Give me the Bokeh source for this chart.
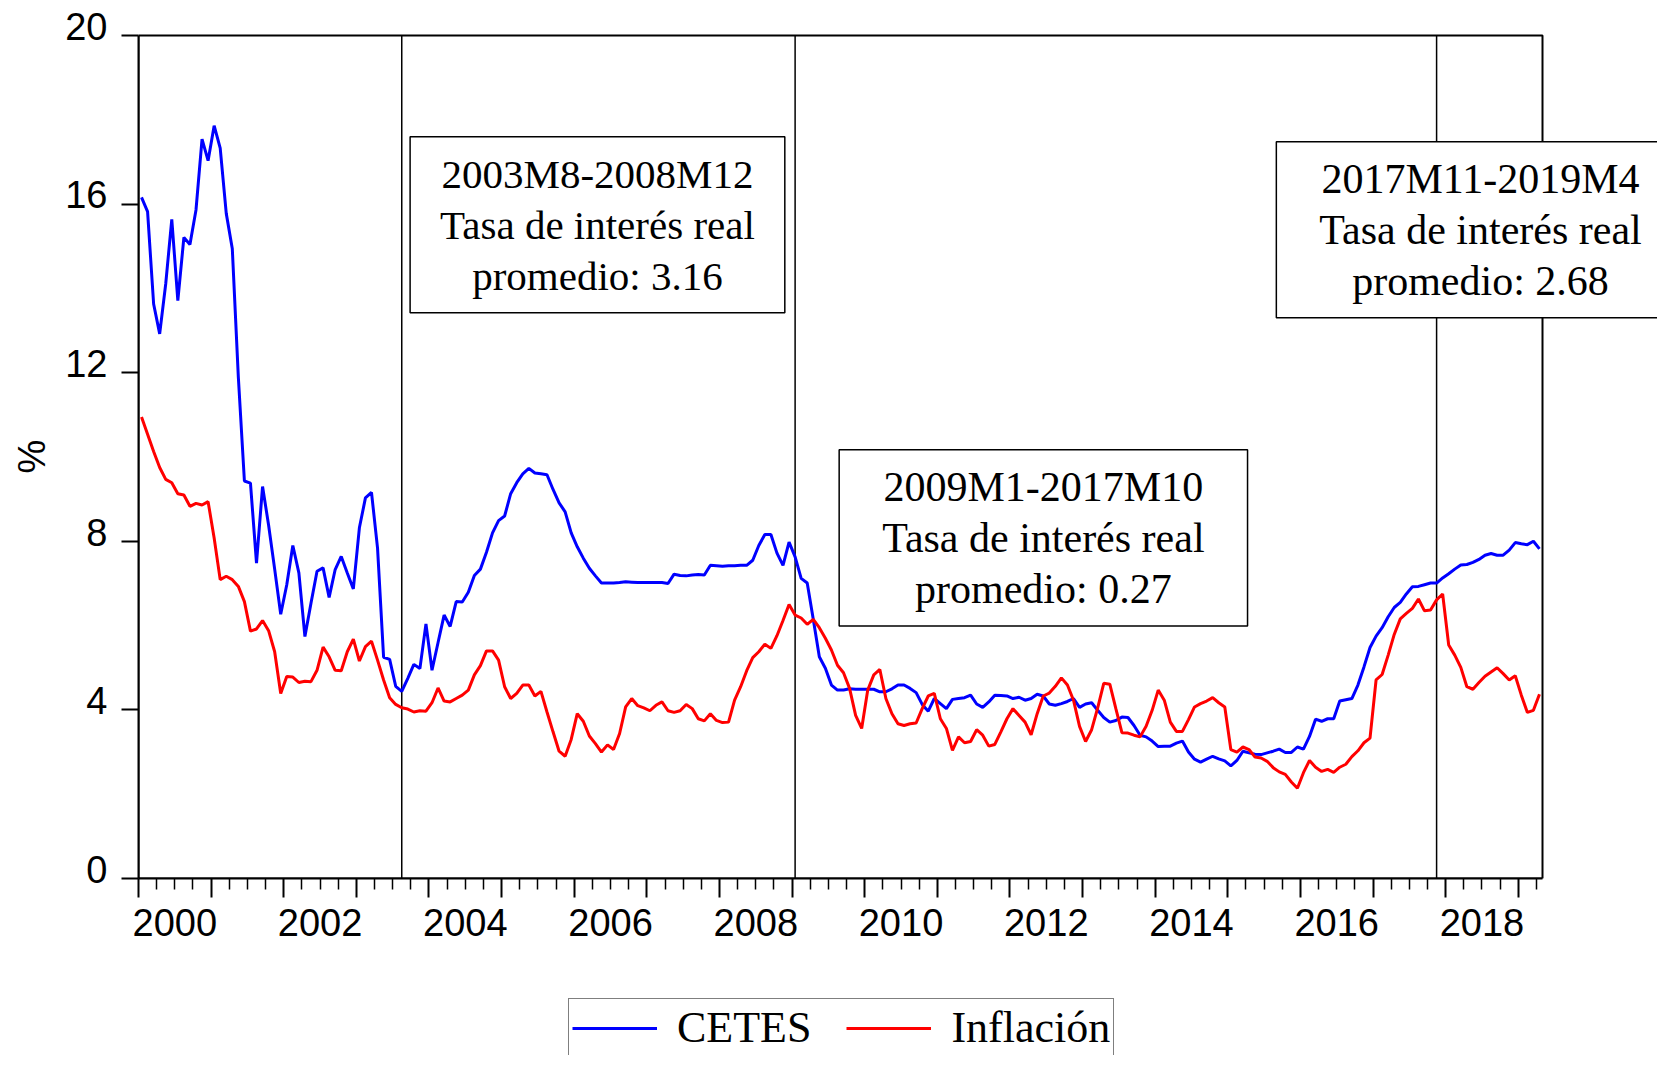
import numpy as np
from bokeh.plotting import figure
from bokeh.layouts import column
from bokeh.models import (ColumnDataSource, BoxAnnotation, Label, Legend, LegendItem,
                          LinearAxis, FixedTicker, Range1d, Title)
from bokeh.embed import file_html
from bokeh.resources import INLINE

# ---------------- data (monthly, 2000M1 - 2019M4) ----------------
START_YEAR = 2000
cetes = [
    16.16, 15.82, 13.63, 12.92, 14.11, 15.64, 13.71, 15.21, 15.04, 15.86, 17.54, 17.03,
    17.86, 17.33, 15.78, 14.94, 11.89, 9.43, 9.38, 7.48, 9.30, 8.38, 7.34, 6.27,
    6.97, 7.90, 7.25, 5.74, 6.53, 7.29, 7.37, 6.67, 7.33, 7.64, 7.25, 6.87,
    8.32, 9.03, 9.16, 7.84, 5.25, 5.20, 4.56, 4.44, 4.75, 5.08, 4.98, 6.04,
    4.94, 5.60, 6.25, 5.98, 6.57, 6.56, 6.79, 7.19, 7.34, 7.74, 8.20, 8.49,
    8.60, 9.13, 9.39, 9.60, 9.73, 9.62, 9.60, 9.58, 9.23, 8.91, 8.70, 8.20,
    7.87, 7.60, 7.36, 7.18, 7.01, 7.01, 7.01, 7.02, 7.04, 7.03, 7.02, 7.02,
    7.02, 7.02, 7.02, 7.00, 7.22, 7.19, 7.18, 7.20, 7.21, 7.20, 7.43, 7.42,
    7.41, 7.42, 7.42, 7.43, 7.43, 7.55, 7.90, 8.16, 8.16, 7.72, 7.43, 7.98,
    7.63, 7.12, 7.01, 6.15, 5.26, 4.99, 4.59, 4.47, 4.47, 4.50, 4.49, 4.49,
    4.49, 4.49, 4.43, 4.43, 4.50, 4.59, 4.59, 4.51, 4.41, 4.13, 3.97, 4.27,
    4.15, 4.03, 4.25, 4.27, 4.29, 4.35, 4.14, 4.06, 4.19, 4.35, 4.34, 4.33,
    4.27, 4.30, 4.23, 4.27, 4.37, 4.33, 4.14, 4.11, 4.15, 4.20, 4.27, 4.06,
    4.14, 4.17, 3.99, 3.82, 3.71, 3.75, 3.83, 3.82, 3.63, 3.40, 3.36, 3.26,
    3.13, 3.14, 3.14, 3.21, 3.26, 3.00, 2.83, 2.76, 2.83, 2.90, 2.84, 2.79,
    2.67, 2.80, 3.02, 2.98, 2.95, 2.94, 2.98, 3.02, 3.07, 2.99, 2.99, 3.12,
    3.07, 3.37, 3.78, 3.73, 3.79, 3.79, 4.21, 4.24, 4.27, 4.59, 5.02, 5.48,
    5.75, 5.95, 6.21, 6.43, 6.55, 6.75, 6.92, 6.93, 6.97, 7.01, 7.01, 7.13,
    7.23, 7.34, 7.44, 7.45, 7.50, 7.57, 7.67, 7.71, 7.67, 7.67, 7.79, 7.97,
    7.94, 7.92, 8.00, 7.82,
]
inflacion = [
    10.95, 10.54, 10.13, 9.75, 9.47, 9.39, 9.13, 9.10, 8.83, 8.90, 8.86, 8.94,
    8.08, 7.09, 7.17, 7.09, 6.93, 6.57, 5.87, 5.92, 6.12, 5.88, 5.38, 4.39,
    4.79, 4.78, 4.65, 4.68, 4.67, 4.94, 5.49, 5.26, 4.94, 4.93, 5.38, 5.68,
    5.16, 5.50, 5.63, 5.18, 4.71, 4.29, 4.13, 4.05, 4.02, 3.95, 3.98, 3.97,
    4.17, 4.52, 4.21, 4.19, 4.27, 4.35, 4.47, 4.83, 5.05, 5.40, 5.40, 5.18,
    4.55, 4.27, 4.39, 4.59, 4.59, 4.33, 4.44, 3.95, 3.48, 3.02, 2.90, 3.30,
    3.91, 3.73, 3.38, 3.20, 3.00, 3.17, 3.06, 3.44, 4.07, 4.27, 4.10, 4.05,
    3.98, 4.11, 4.19, 3.98, 3.94, 3.98, 4.13, 4.03, 3.79, 3.74, 3.91, 3.75,
    3.70, 3.71, 4.23, 4.55, 4.93, 5.24, 5.38, 5.56, 5.46, 5.76, 6.12, 6.50,
    6.25, 6.18, 6.03, 6.15, 5.95, 5.70, 5.42, 5.06, 4.88, 4.51, 3.87, 3.56,
    4.47, 4.83, 4.96, 4.27, 3.91, 3.67, 3.63, 3.67, 3.69, 4.03, 4.33, 4.39,
    3.79, 3.56, 3.04, 3.36, 3.22, 3.25, 3.53, 3.40, 3.14, 3.18, 3.48, 3.79,
    4.03, 3.87, 3.71, 3.41, 3.91, 4.33, 4.40, 4.56, 4.76, 4.59, 4.23, 3.61,
    3.25, 3.53, 4.05, 4.63, 4.61, 4.03, 3.46, 3.45, 3.40, 3.36, 3.61, 3.99,
    4.47, 4.23, 3.71, 3.49, 3.49, 3.77, 4.07, 4.15, 4.21, 4.29, 4.17, 4.07,
    3.06, 3.00, 3.12, 3.06, 2.88, 2.86, 2.78, 2.63, 2.53, 2.47, 2.29, 2.14,
    2.51, 2.80, 2.64, 2.54, 2.59, 2.52, 2.64, 2.71, 2.89, 3.03, 3.22, 3.33,
    4.71, 4.84, 5.30, 5.79, 6.16, 6.29, 6.41, 6.63, 6.35, 6.37, 6.61, 6.75,
    5.54, 5.30, 5.01, 4.55, 4.49, 4.65, 4.80, 4.90, 5.00, 4.86, 4.71, 4.81,
    4.35, 3.94, 3.99, 4.37,
]
series_names = ["CETES", "Inflación"]
series_colors = ["#0000FF", "#FF0000"]
period_starts = ["2003M8", "2009M1", "2017M11"]
period_texts = [
    "2003M8-2008M12\nTasa de interés real\npromedio: 3.16",
    "2009M1-2017M10\nTasa de interés real\npromedio: 0.27",
    "2017M11-2019M4\nTasa de interés real\npromedio: 2.68",
]
y_ticks = [0, 4, 8, 12, 16, 20]
y_title = "%"
x_label_years = ["2000", "2002", "2004", "2006", "2008", "2010",
                 "2012", "2014", "2016", "2018"]


def month_pos(label):
    yr, mo = label.split("M")
    return int(yr) + (int(mo) - 1 + 0.5) / 12.0


n = len(cetes)
x = START_YEAR + (np.arange(n) + 0.5) / 12.0
data_end = START_YEAR + n / 12.0
Y_MIN, Y_MAX = y_ticks[0], y_ticks[-1]
src = ColumnDataSource(dict(x=x, cetes=cetes, infl=inflacion))
period_x = [month_pos(s) for s in period_starts]
per_src = ColumnDataSource(dict(x=period_x, y0=[Y_MIN] * len(period_x),
                                y1=[Y_MAX] * len(period_x)))

SANS = "Liberation Sans"
SERIF = "Liberation Serif"

# layout (pixels)
W = 1657
H_MAIN = 998
H_LEG = 1055 - H_MAIN
LEFT, BOX_TOP = 138, 35          # left border, top of the drawn box
DATA_W, DATA_H = 1404, 843       # size of the drawn box
TOP_PAD = 26                     # plot area above the box (room for the "20" label)
TOP = BOX_TOP - TOP_PAD
BOTTOM = H_MAIN - BOX_TOP - DATA_H
EXTRA = W - LEFT - DATA_W        # room right of the box (for the overflowing note)
x_end = data_end + (data_end - START_YEAR) * EXTRA / DATA_W
y_top = Y_MAX + (Y_MAX - Y_MIN) * TOP_PAD / DATA_H

p = figure(width=W, height=H_MAIN, output_backend="svg", toolbar_location=None,
           x_range=Range1d(START_YEAR, x_end), y_range=Range1d(Y_MIN, y_top),
           x_axis_type=None,
           min_border_left=LEFT, min_border_right=0, min_border_top=TOP,
           min_border_bottom=BOTTOM)
p.ygrid.visible = False
p.outline_line_color = None
p.background_fill_color = "white"
p.border_fill_color = "white"

# ---- y axis: ticks on the box + labels sitting slightly above their ticks
ya = p.yaxis[0]
ya.ticker = FixedTicker(ticks=y_ticks, minor_ticks=[])
ya.bounds = (Y_MIN, Y_MAX)
ya.major_tick_out = 17
ya.major_tick_in = 0
ya.minor_tick_out = 0
ya.minor_tick_in = 0
ya.major_tick_line_width = 2
ya.axis_line_width = 2
ya.major_label_text_font_size = "0px"
ya.major_label_standoff = 0
ya.major_label_overrides = {float(v): "" for v in y_ticks}

ylab_pos = [v + 0.22 for v in y_ticks]
ya2 = LinearAxis(ticker=FixedTicker(ticks=ylab_pos, minor_ticks=[]),
                 axis_line_color=None, major_tick_line_color=None,
                 minor_tick_line_color=None, major_tick_out=0, major_tick_in=0,
                 minor_tick_out=0, minor_tick_in=0,
                 major_label_text_font=SANS, major_label_text_font_size="38px",
                 major_label_text_color="black", major_label_standoff=14,
                 major_label_overrides={pp: str(v) for pp, v in zip(ylab_pos, y_ticks)})
p.add_layout(ya2, "left")

# axis title "%", placed level with the middle of the box
p.add_layout(Title(text=y_title, align="left", vertical_align="middle", offset=405,
                   standoff=18, text_font=SANS, text_font_size="38px",
                   text_font_style="normal", text_color="black"), "left")

# ---- x axis: ticks at year boundaries, quarterly minor ticks
years = list(range(START_YEAR, START_YEAR + int(np.ceil(n / 12.0))))
minors = [yy + q / 4 for yy in years for q in (1, 2, 3) if yy + q / 4 < data_end]
xa_ticks = LinearAxis(ticker=FixedTicker(ticks=years, minor_ticks=minors),
                      bounds=(START_YEAR, data_end),
                      major_tick_out=19, major_tick_in=0, minor_tick_out=11, minor_tick_in=0,
                      major_tick_line_width=2, minor_tick_line_width=1.5, axis_line_width=2,
                      major_label_text_font_size="0px", major_label_standoff=0,
                      major_label_overrides={float(yy): "" for yy in years})
p.add_layout(xa_ticks, "below")

lab_pos = [int(s) + 0.5 for s in x_label_years]
xa_labels = LinearAxis(ticker=FixedTicker(ticks=lab_pos, minor_ticks=[]),
                       bounds=(START_YEAR, data_end),
                       major_tick_out=0, major_tick_in=0, minor_tick_out=0, minor_tick_in=0,
                       axis_line_color=None, major_tick_line_color=None,
                       minor_tick_line_color=None,
                       major_label_text_font=SANS, major_label_text_font_size="38px",
                       major_label_text_color="black", major_label_standoff=11,
                       major_label_overrides={pp: s for pp, s in zip(lab_pos, x_label_years)})
p.add_layout(xa_labels, "below")

# ---- period separators and series
p.segment(x0="x", y0="y0", x1="x", y1="y1", source=per_src,
          line_color="black", line_width=1.5)
r1 = p.line("x", "cetes", source=src, line_color=series_colors[0], line_width=3)
r2 = p.line("x", "infl", source=src, line_color=series_colors[1], line_width=3)

# ---- the box around the data
p.add_layout(BoxAnnotation(left=START_YEAR, right=data_end, bottom=Y_MIN, top=Y_MAX,
                           fill_color=None, fill_alpha=0, line_color="black",
                           line_width=2, line_alpha=1))

# ---- annotation notes
box_x = [2006.32, 2012.46, 2018.48]
box_y = [15.51, 8.08, 15.39]
box_font = ["41px", "42px", "42px"]
box_padx = [30, 43, 43]
for t, bx, by, fs, px in zip(period_texts, box_x, box_y, box_font, box_padx):
    p.add_layout(Label(x=bx, y=by, text=t, text_font=SERIF, text_font_size=fs,
                       text_align="center", text_baseline="middle", text_color="black",
                       text_line_height=1.11,
                       background_fill_color="white", border_line_color="black",
                       border_line_width=1.5,
                       padding=dict(left=px, right=px, top=14, bottom=14)))

# ---- legend strip below the chart (glyphs reuse the series, kept off-screen here)
pl = figure(width=W, height=H_LEG, output_backend="svg", toolbar_location=None,
            x_axis_type=None, y_axis_type=None, x_range=Range1d(0, 1), y_range=Range1d(0, 1),
            min_border_left=0, min_border_right=0, min_border_top=0, min_border_bottom=0)
pl.outline_line_color = None
pl.background_fill_color = "white"
pl.border_fill_color = "white"
g1 = pl.line("x", "cetes", source=src, line_color=series_colors[0], line_width=3)
g2 = pl.line("x", "infl", source=src, line_color=series_colors[1], line_width=3)
legend = Legend(items=[LegendItem(label=series_names[0], renderers=[g1]),
                       LegendItem(label=series_names[1], renderers=[g2])],
                orientation="horizontal", location=(430, -2),
                label_text_font=SERIF, label_text_font_size="44px", label_text_color="black",
                glyph_width=85, glyph_height=30, label_standoff=20, spacing=35,
                padding=3, margin=0,
                border_line_color="black", border_line_width=1.5,
                background_fill_color="white", background_fill_alpha=1.0)
pl.add_layout(legend, "center")

layout = column(p, pl, spacing=0)
open("out.html", "w").write(file_html(layout, INLINE))
